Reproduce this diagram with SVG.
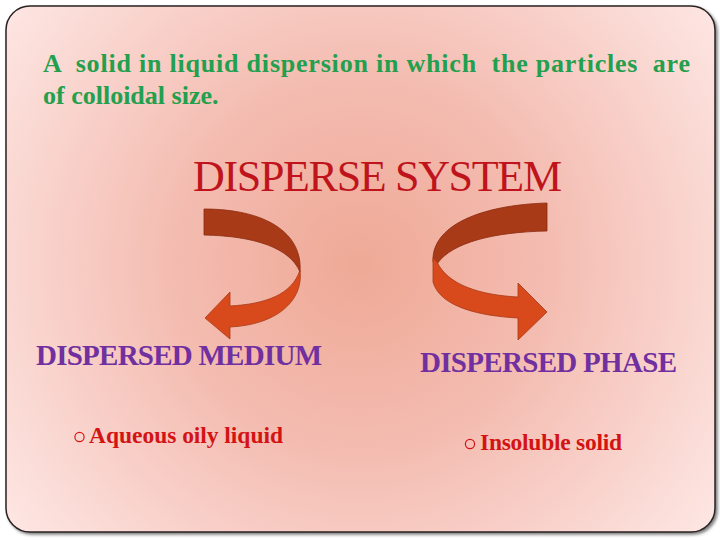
<svg xmlns="http://www.w3.org/2000/svg" width="720" height="540" viewBox="0 0 720 540">
<defs>
<radialGradient id="bg" cx="360" cy="265" r="430" gradientUnits="userSpaceOnUse">
<stop offset="0" stop-color="#efa996"/>
<stop offset="0.45" stop-color="#f4bdb2"/>
<stop offset="1" stop-color="#fde5e2"/>
</radialGradient>
<filter id="sh" x="-5%" y="-5%" width="110%" height="110%">
<feDropShadow dx="2" dy="2" stdDeviation="1.5" flood-color="#000" flood-opacity="0.5"/>
</filter>
<style>
.t{font-family:"Liberation Serif","Times New Roman",serif;font-weight:bold}
.green{fill:#22a04e;font-size:26px}
.title{fill:#c0141c;font-size:44px;font-weight:normal}
.purple{fill:#7030a0;font-size:29px}
.red{fill:#d41414;font-size:23.5px}
.dark{fill:#a83a18;stroke:#8a2c10;stroke-width:0.8}
.light{fill:#d84a1c;stroke:#a83a18;stroke-width:0.8}
.bul{fill:none;stroke:#d41414;stroke-width:1.2}
</style>
</defs>
<rect x="0" y="0" width="720" height="540" fill="#ffffff"/>
<rect x="6" y="6" width="709" height="526" rx="24" fill="url(#bg)" stroke="#2a2222" stroke-width="1.5" filter="url(#sh)"/>
<g id="intro">
<text class="t green" x="43" y="72" xml:space="preserve" textLength="647">A  solid in liquid dispersion in which  the particles  are</text>
<text class="t green" x="43" y="104">of colloidal size.</text>
</g>
<g id="disperse-system">
<text class="t title" x="193" y="191" textLength="369">DISPERSE SYSTEM</text>
</g>
<g id="connectors">
<g id="arrow-left">
<path class="dark" d="M204,209 C264,209 303,232 300,272 C290,248 255,236 204,235 Z"/>
<path class="light" d="M300,270 C304,302 275,325 230,327 L230,339 L205,318 L230,292 L230,306 C265,304 292,295 300,270 Z"/>
</g>
<g id="arrow-right">
<path class="dark" d="M547,203 C480,205 431,226 433,262 L437,264 C452,242 495,232 547,231 Z"/>
<path class="light" d="M433,258 L433,282 C440,307 480,316 518,318 L518,340 L547,312 L518,283 L518,297 C480,295 448,285 437,262 Z"/>
</g>
</g>
<g id="dispersed-medium">
<text class="t purple" x="36" y="365" textLength="286">DISPERSED MEDIUM</text>
</g>
<g id="dispersed-phase">
<text class="t purple" x="420" y="372" textLength="257">DISPERSED PHASE</text>
</g>
<g id="aqueous">
<circle class="bul" cx="79.5" cy="437" r="4.6"/>
<text class="t red" x="89" y="443" textLength="194">Aqueous oily liquid</text>
</g>
<g id="insoluble">
<circle class="bul" cx="470" cy="444" r="4.6"/>
<text class="t red" x="480" y="450" textLength="142">Insoluble solid</text>
</g>
</svg>
